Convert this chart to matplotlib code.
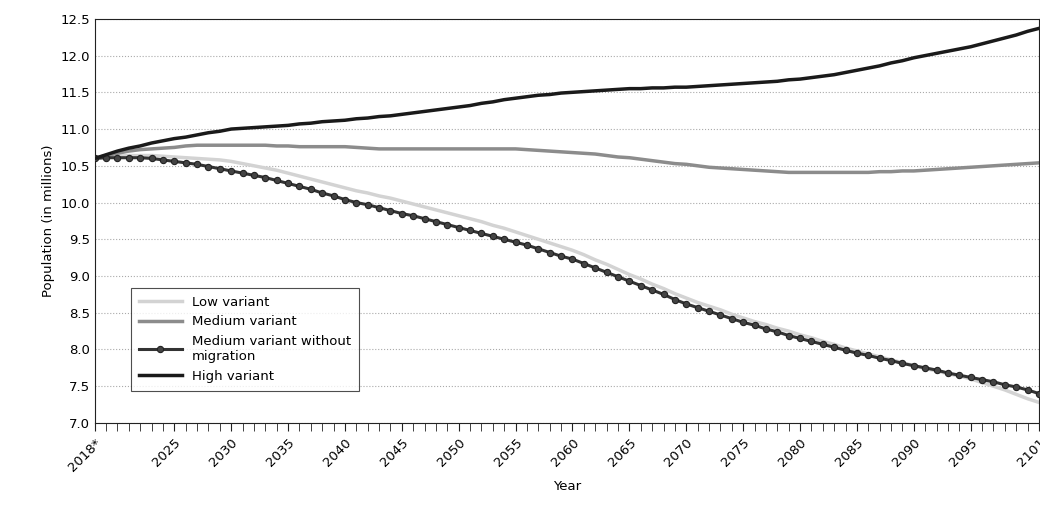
import matplotlib
matplotlib.use("Agg")
import matplotlib.pyplot as plt
import numpy as np

years = list(range(2018, 2102))

high = [10.60, 10.65, 10.70, 10.74, 10.77, 10.81, 10.84, 10.87,
        10.89, 10.92, 10.95, 10.97, 11.00, 11.01, 11.02, 11.03, 11.04, 11.05,
        11.07, 11.08, 11.10, 11.11, 11.12, 11.14, 11.15, 11.17, 11.18, 11.20,
        11.22, 11.24, 11.26, 11.28, 11.30, 11.32, 11.35, 11.37, 11.40, 11.42,
        11.44, 11.46, 11.47, 11.49, 11.50, 11.51, 11.52, 11.53, 11.54, 11.55,
        11.55, 11.56, 11.56, 11.57, 11.57, 11.58, 11.59, 11.60, 11.61, 11.62,
        11.63, 11.64, 11.65, 11.67, 11.68, 11.70, 11.72, 11.74, 11.77, 11.80,
        11.83, 11.86, 11.90, 11.93, 11.97, 12.00, 12.03, 12.06, 12.09, 12.12,
        12.16, 12.20, 12.24, 12.28, 12.33, 12.37]

medium = [10.60, 10.64, 10.67, 10.70, 10.72, 10.73, 10.74, 10.75,
          10.77, 10.78, 10.78, 10.78, 10.78, 10.78, 10.78, 10.78, 10.77, 10.77,
          10.76, 10.76, 10.76, 10.76, 10.76, 10.75, 10.74, 10.73, 10.73, 10.73,
          10.73, 10.73, 10.73, 10.73, 10.73, 10.73, 10.73, 10.73, 10.73, 10.73,
          10.72, 10.71, 10.70, 10.69, 10.68, 10.67, 10.66, 10.64, 10.62, 10.61,
          10.59, 10.57, 10.55, 10.53, 10.52, 10.50, 10.48, 10.47, 10.46, 10.45,
          10.44, 10.43, 10.42, 10.41, 10.41, 10.41, 10.41, 10.41, 10.41, 10.41,
          10.41, 10.42, 10.42, 10.43, 10.43, 10.44, 10.45, 10.46, 10.47, 10.48,
          10.49, 10.50, 10.51, 10.52, 10.53, 10.54]

no_migration = [10.60, 10.61, 10.61, 10.61, 10.61, 10.60, 10.58, 10.56,
                10.54, 10.52, 10.49, 10.46, 10.43, 10.40, 10.37, 10.34, 10.30, 10.26,
                10.22, 10.18, 10.13, 10.09, 10.04, 10.00, 9.97, 9.93, 9.89, 9.85,
                9.82, 9.78, 9.74, 9.70, 9.66, 9.62, 9.58, 9.54, 9.50, 9.46,
                9.42, 9.37, 9.32, 9.27, 9.23, 9.17, 9.11, 9.05, 8.99, 8.93,
                8.87, 8.81, 8.75, 8.68, 8.62, 8.57, 8.52, 8.47, 8.42, 8.37,
                8.33, 8.28, 8.24, 8.19, 8.15, 8.11, 8.07, 8.03, 7.99, 7.95,
                7.92, 7.88, 7.85, 7.81, 7.78, 7.75, 7.72, 7.68, 7.65, 7.62,
                7.59, 7.56, 7.52, 7.49, 7.45, 7.40]

low = [10.60, 10.62, 10.63, 10.64, 10.64, 10.64, 10.63, 10.62,
       10.61, 10.60, 10.59, 10.58, 10.56, 10.53, 10.50, 10.47, 10.44, 10.40,
       10.36, 10.32, 10.28, 10.24, 10.20, 10.16, 10.13, 10.09, 10.06, 10.02,
       9.98, 9.94, 9.90, 9.86, 9.82, 9.78, 9.74, 9.69, 9.65, 9.60,
       9.55, 9.50, 9.45, 9.40, 9.35, 9.29, 9.22, 9.16, 9.09, 9.02,
       8.96, 8.89, 8.83, 8.76, 8.70, 8.64, 8.59, 8.54, 8.48, 8.43,
       8.38, 8.34, 8.29, 8.25, 8.20, 8.16, 8.11, 8.07, 8.02, 7.98,
       7.94, 7.90, 7.86, 7.82, 7.78, 7.74, 7.71, 7.67, 7.64, 7.60,
       7.55, 7.50, 7.45, 7.39, 7.33, 7.28]

tick_years = [2018, 2025, 2030, 2035, 2040, 2045, 2050, 2055, 2060,
              2065, 2070, 2075, 2080, 2085, 2090, 2095, 2101]
tick_labels = ["2018*"] + [str(y) for y in tick_years[1:]]

fig = plt.figure(figsize=(10.4, 5.09), dpi=100)
ax = fig.add_axes([0.091, 0.169, 0.908, 0.794])

ax.plot(years, low, color="#d3d3d3", lw=2.5, label="Low variant", zorder=2)
ax.plot(years, medium, color="#8c8c8c", lw=2.5, label="Medium variant", zorder=2)
ax.plot(years, no_migration, color="#333333", lw=2.2, marker="o", ms=4.5,
        markerfacecolor="#444444", markeredgecolor="#222222", markeredgewidth=0.8,
        label="Medium variant without\nmigration", zorder=3)
ax.plot(years, high, color="#1a1a1a", lw=2.5, label="High variant", zorder=3)

ax.set_xlim(2018, 2101)
ax.set_ylim(7.0, 12.5)
ax.set_yticks(np.arange(7.0, 12.51, 0.5))
ax.set_yticklabels([f"{v:.1f}" for v in np.arange(7.0, 12.51, 0.5)], fontsize=9.5)
ax.set_xticks(tick_years)
ax.set_xticklabels(tick_labels, rotation=45, ha="right", rotation_mode="anchor", fontsize=9.5)
ax.set_xticks(years, minor=True)
ax.tick_params(axis="x", which="both", direction="out", length=6, color="#222222")
ax.tick_params(axis="y", length=0)
ax.grid(axis="y", linestyle=":", color="#aaaaaa", lw=0.8)
for s in ax.spines.values():
    s.set_color("#222222")

ax.set_xlabel("Year", fontsize=9.5, labelpad=4)
ax.set_ylabel("Population (in millions)", fontsize=9.5)

leg = ax.legend(loc="lower left", bbox_to_anchor=(0.032, 0.064), fontsize=9.5,
                frameon=True, fancybox=False, edgecolor="#222222", handlelength=3.2,
                borderpad=0.6, labelspacing=0.5)
leg.get_frame().set_linewidth(0.8)

fig.savefig("out.png", dpi=100)
